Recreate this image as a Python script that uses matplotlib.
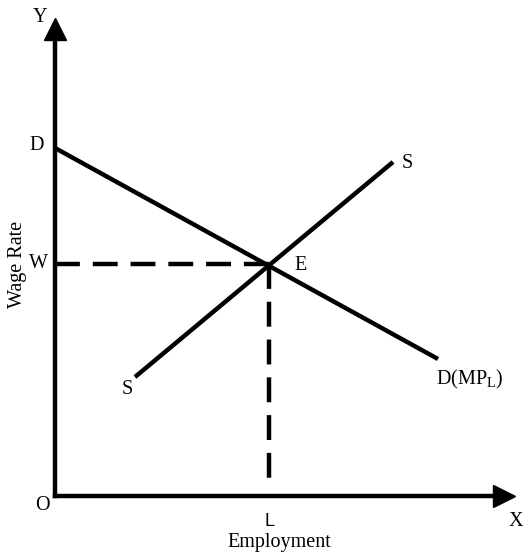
import matplotlib.pyplot as plt

plt.rcParams['font.family'] = ['Liberation Serif', 'DejaVu Serif']
plt.rcParams['mathtext.fontset'] = 'custom'
plt.rcParams['mathtext.rm'] = 'Liberation Serif'

# curves (1 unit = 10 px, origin at the axes corner)
demand_x = [0, 38.3]
demand_y = [34.8, 13.7]
supply_x = [8.0, 33.8]
supply_y = [11.9, 33.4]
eq_x = 21.4   # L
eq_y = 23.2   # W
y_tip = 47.8
x_tip = 46.0

fig = plt.figure(figsize=(5.23, 5.58), dpi=100)
ax = fig.add_axes([0, 0, 1, 1])
ax.set_xlim(-5.5, 46.8)
ax.set_ylim(-6.2, 49.6)
ax.axis('off')

lw = 3.2
# axes with arrow heads
ax.plot([0, 0], [0, y_tip - 1.5], color='black', lw=lw, solid_capstyle='projecting')
ax.plot([0, x_tip - 1.5], [0, 0], color='black', lw=lw, solid_capstyle='projecting')
ax.plot([0], [y_tip - 1.1], marker='^', markersize=16.5, color='black', clip_on=False)
ax.plot([x_tip - 1.15], [0], marker='>', markersize=16.5, color='black', clip_on=False)

ax.plot(demand_x, demand_y, color='black', lw=lw, solid_capstyle='butt')
ax.plot(supply_x, supply_y, color='black', lw=lw, solid_capstyle='butt')

dash = (0, (5.6, 2.9))
ax.plot([0, eq_x], [eq_y, eq_y], color='black', lw=lw, linestyle=dash)
ax.plot([eq_x, eq_x], [eq_y, 1.1], color='black', lw=lw, linestyle=dash)

fs = 14.5
ax.text(-1.5, y_tip + 0.1, 'Y', fontsize=fs, ha='center', va='center')
ax.text(-1.8, demand_y[0] + 0.2, 'D', fontsize=fs, ha='center', va='center')
ax.text(-1.7, eq_y, 'W', fontsize=fs, ha='center', va='center')
ax.text(eq_x + 3.2, eq_y - 0.2, 'E', fontsize=fs, ha='center', va='center')
ax.text(supply_x[1] + 1.4, supply_y[1] - 0.1, 'S', fontsize=fs, ha='center', va='center')
ax.text(supply_x[0] - 0.8, supply_y[0] - 1.2, 'S', fontsize=fs, ha='center', va='center')
ax.text(demand_x[1] - 0.2, demand_y[1] - 2.0, r'D(MP$_{\mathrm{L}}$)', fontsize=fs,
        ha='left', va='center')
ax.text(-1.3, -0.9, 'O', fontsize=fs, ha='center', va='center')
ax.text(eq_x, -2.5, 'L', fontsize=13, ha='center', va='center', family='Liberation Sans')
ax.text(x_tip + 0.1, -2.6, 'X', fontsize=fs, ha='center', va='center')
ax.text(22.4, -4.7, 'Employment', fontsize=fs, ha='center', va='center')
ax.text(-3.7, eq_y, 'Wage Rate', fontsize=fs, ha='center', va='center', rotation=90)

fig.savefig('out.png', dpi=100)
